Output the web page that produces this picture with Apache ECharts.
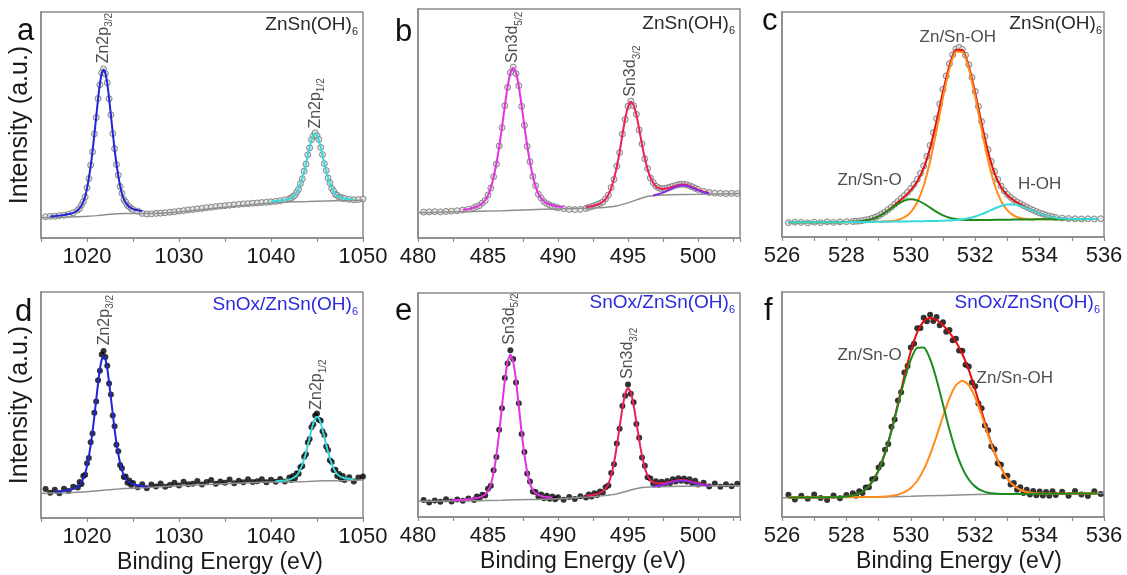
<!DOCTYPE html>
<html>
<head>
<meta charset="utf-8">
<title>XPS spectra</title>
<script src="https://cdn.jsdelivr.net/npm/echarts@6/dist/echarts.min.js"></script>
<style>
  html, body { margin: 0; padding: 0; background: #fff; }
  #chart { width: 1127px; height: 575px; }
</style>
</head>
<body>
<div id="chart"></div>
<script>
// ---- Zn 2p (panels a, d) ----
const zn2pEnergy = [
  1015.5, 1016, 1016.5, 1017, 1017.5, 1018, 1018.5,
  1019, 1019.2, 1019.4, 1019.6, 1019.8, 1020, 1020.2, 1020.4, 1020.6, 1020.8, 1021, 1021.2, 1021.4, 1021.6, 1021.8,
  1022, 1022.2, 1022.4, 1022.6, 1022.8, 1023, 1023.2, 1023.4, 1023.6, 1023.8, 1024, 1024.2, 1024.4, 1024.6, 1024.8, 1025,
  1025.5, 1026, 1026.5, 1027, 1027.5, 1028, 1028.5, 1029, 1029.5, 1030, 1030.5, 1031, 1031.5, 1032, 1032.5, 1033, 1033.5,
  1034, 1034.5, 1035, 1035.5, 1036, 1036.5, 1037, 1037.5, 1038, 1038.5, 1039, 1039.5, 1040, 1040.5, 1041, 1041.5,
  1042, 1042.2, 1042.4, 1042.6, 1042.8, 1043, 1043.2, 1043.4, 1043.6, 1043.8, 1044, 1044.2, 1044.4, 1044.6, 1044.8,
  1045, 1045.2, 1045.4, 1045.6, 1045.8, 1046, 1046.2, 1046.4, 1046.6, 1046.8, 1047, 1047.2, 1047.4, 1047.6, 1047.8, 1048,
  1048.5, 1049, 1049.5, 1050
];
const zn2pMeasA = [
  9.4, 9.6, 9.6, 9.9, 10.1, 10.5, 11.2,
  12.4, 13.1, 14.6, 16.1, 18.2, 22.2, 26.3, 32.2, 38.1, 46.1, 53.3, 61.7, 67.8, 73.1, 74.8,
  72.6, 68.7, 61.6, 54.5, 46.2, 39.5, 32.5, 27.8, 22.8, 19.8, 17.0, 15.9, 14.4, 13.9, 13.0, 12.6,
  11.9, 10.9, 10.6, 10.7, 10.9, 11.0, 11.2, 11.4, 11.6, 11.9, 12.1, 12.4, 12.6, 12.9, 13.1, 13.4, 13.6,
  13.9, 14.1, 14.3, 14.5, 14.7, 14.9, 15.1, 15.2, 15.4, 15.5, 15.7, 15.8, 16.0, 16.2, 16.5, 16.9,
  17.4, 17.7, 18.4, 18.9, 20.3, 21.6, 24.1, 26.2, 29.6, 32.7, 36.8, 39.9, 43.5, 45.2, 46.5,
  45.2, 43.6, 40.1, 36.9, 32.9, 29.9, 26.6, 24.4, 22.0, 20.8, 19.3, 18.9, 18.0, 17.9, 17.5, 17.5,
  17.1, 16.9, 17.0, 17.3
];
const zn2pMeasD = [
  12.8, 11.2, 12.5, 11.0, 12.9, 12.0, 13.8,
  13.5, 15.9, 15.0, 18.6, 19.1, 24.2, 26.5, 33.5, 37.4, 46.6, 51.5, 61.0, 65.2, 72.3, 73.9,
  71.2, 67.4, 59.5, 54.6, 45.3, 40.6, 32.4, 29.5, 23.5, 22.0, 18.1, 18.4, 15.6, 16.6, 14.6, 15.5,
  13.6, 14.9, 13.2, 14.8, 13.9, 15.3, 13.8, 14.6, 15.6, 14.4, 16.0, 14.9, 15.2, 16.4, 14.8, 15.9, 16.8,
  15.1, 16.2, 15.6, 17.0, 15.4, 16.5, 15.8, 17.1, 15.9, 16.3, 17.2, 15.8, 16.9, 16.0, 17.3, 16.2,
  17.9, 16.8, 18.6, 17.6, 19.8, 19.6, 22.5, 23.0, 27.1, 28.2, 33.4, 35.0, 40.2, 41.5, 45.3,
  46.2, 43.5, 43.0, 38.4, 36.7, 31.6, 30.1, 25.5, 24.8, 21.2, 21.3, 18.6, 19.5, 17.3, 18.6, 16.8,
  18.0, 16.2, 17.9, 18.4
];
// fitted components, starting at the energy noted
const zn2p32FitA = [ // from 1016
  9.55, 9.7, 9.9, 10.15, 10.6, 11.15,
  12.3, 13.2, 14.4, 15.95, 18.4, 21.95, 26.5, 31.9, 38.4, 45.8, 53.6, 61.4, 68.1, 72.8, 74.5,
  72.9, 68.4, 61.9, 54.2, 46.5, 39.2, 32.8, 27.5, 23.1, 19.6, 17.2, 15.7, 14.6, 13.8, 13.2, 12.8,
  12.25, 11.9
];
const zn2p12FitA = [ // from 1040
  16.2, 16.35, 16.55, 16.8,
  17.35, 17.75, 18.3, 19.0, 20.2, 21.8, 23.9, 26.4, 29.4, 32.9, 36.5, 40.1, 43.2, 45.4, 46.2,
  45.4, 43.3, 40.3, 36.7, 33.1, 29.7, 26.8, 24.25, 22.2, 20.6, 19.45, 18.75, 18.2, 17.85, 17.6, 17.45,
  17.2, 17.1
];
const zn2p32FitD = [ // from 1016.5
  11.6, 11.8, 12.0, 12.4, 12.9,
  14.0, 14.8, 15.9, 17.4, 19.7, 23.0, 27.2, 32.2, 38.2, 45.1, 52.3, 59.5, 65.75, 70.1, 71.7,
  70.3, 66.1, 60.1, 53.1, 46.1, 39.1, 33.2, 28.3, 24.3, 21.2, 18.95, 17.5, 16.5, 15.8, 15.3, 14.95,
  14.5, 14.2, 13.9
];
const zn2p12FitD = [ // from 1040.5
  16.3, 16.45, 16.65,
  17.0, 17.3, 17.7, 18.2, 18.9, 20.0, 21.6, 23.6, 26.0, 28.9, 32.2, 35.6, 39.0, 42.0, 44.0,
  44.8, 44.1, 42.1, 39.2, 35.8, 32.4, 29.15, 26.3, 24.0, 22.0, 20.5, 19.4, 18.7, 18.2, 17.9, 17.6,
  17.35, 17.2
];
const zn2pBgEnergy = [1015, 1018, 1020, 1021, 1022, 1023, 1024, 1026, 1030, 1035, 1040, 1042, 1044, 1046, 1048, 1050];
const zn2pBgA = [9.0, 9.3, 9.6, 9.9, 10.3, 10.6, 10.8, 10.8, 11.5, 13.6, 15.5, 15.9, 16.1, 16.35, 16.55, 16.7];
const zn2pBgD = [11.0, 11.2, 11.6, 12.0, 12.4, 12.7, 13.0, 13.4, 14.3, 15.2, 15.9, 16.0, 16.2, 16.45, 16.6, 16.8];
const zn2pTickLabels = [1020, 1030, 1040, 1050];

// ---- Sn 3d (panels b, e) ----
const sn3dEnergy = [
  480.4, 480.8, 481.2, 481.6, 482, 482.4, 482.8, 483.2, 483.6,
  484, 484.2, 484.4, 484.6, 484.8, 485, 485.2, 485.4, 485.6, 485.8, 486, 486.2, 486.4, 486.6, 486.8,
  487, 487.2, 487.4, 487.6, 487.8, 488, 488.2, 488.4, 488.6, 488.8, 489, 489.2, 489.4, 489.6, 489.8, 490,
  490.4, 490.8, 491.2, 491.6, 492,
  492.2, 492.4, 492.6, 492.8, 493, 493.2, 493.4, 493.6, 493.8, 494, 494.2, 494.4, 494.6, 494.8, 495, 495.2,
  495.4, 495.6, 495.8, 496, 496.2, 496.4, 496.6, 496.8, 497, 497.2, 497.4, 497.6, 497.8, 498, 498.2, 498.4,
  498.6, 498.8, 499, 499.2, 499.4, 499.6, 499.8, 500,
  500.4, 500.8, 501.2, 501.6, 502, 502.4, 502.8
];
const sn3dMeasB = [
  11.3, 11.4, 11.5, 11.4, 11.6, 11.7, 11.9, 12.2, 12.6,
  13.2, 13.8, 14.2, 15.3, 16.4, 18.8, 21.8, 26.8, 32.3, 40.2, 48.2, 57.8, 65.8, 72.3, 74.6,
  71.8, 66.5, 57.5, 49.2, 40.0, 33.3, 26.9, 22.8, 19.1, 17.4, 15.9, 15.0, 14.4, 13.9, 13.5, 13.2,
  12.8, 12.5, 12.4, 12.5, 12.9,
  13.4, 13.7, 14.1, 14.6, 15.1, 15.7, 17.1, 18.8, 22.0, 25.6, 31.4, 37.3, 45.4, 51.8, 57.5, 59.8,
  57.7, 54.0, 47.2, 41.1, 34.6, 30.3, 26.2, 24.2, 22.6, 21.9, 21.5, 21.6, 21.9, 22.2, 22.6, 23.0,
  23.3, 23.5, 23.5, 23.2, 22.8, 22.3, 21.7, 21.2,
  20.4, 19.9, 19.6, 19.5, 19.4, 19.5, 19.4
];
const sn3dMeasE = [
  7.6, 6.5, 7.4, 6.8, 7.9, 6.9, 7.8, 7.2, 8.3,
  7.6, 9.1, 8.4, 9.9, 9.6, 12.6, 14.0, 20.9, 26.8, 38.9, 48.6, 62.0, 68.5, 74.4, 70.5,
  60.1, 50.8, 37.0, 29.0, 19.4, 15.8, 11.4, 11.2, 9.2, 10.0, 8.4, 9.5, 8.1, 9.2, 7.9, 8.8,
  7.7, 8.9, 8.0, 9.3, 8.7,
  10.1, 9.2, 10.6, 9.8, 11.4, 10.9, 13.3, 14.1, 19.6, 23.5, 32.8, 39.4, 49.6, 54.1, 59.1, 55.0,
  51.2, 41.5, 35.4, 26.6, 22.9, 17.8, 17.2, 14.9, 16.0, 14.4, 15.7, 14.6, 16.1, 15.1, 16.8, 15.8,
  17.3, 16.2, 17.2, 15.9, 16.8, 15.1, 16.2, 14.5,
  15.3, 13.6, 14.9, 13.5, 14.6, 13.7, 14.8
];
const sn3d52FitB = [ // from 483.2
  12.3, 12.6,
  13.3, 13.7, 14.3, 15.2, 16.6, 18.65, 22.0, 26.6, 32.55, 39.9, 48.5, 57.5, 66.1, 72.0, 74.3,
  72.1, 66.25, 57.8, 48.9, 40.3, 33.0, 27.1, 22.6, 19.3, 17.3, 16.05, 15.15, 14.6, 14.3, 13.9, 13.76,
  13.6
];
const sn3d32FitB = [ // from 492 (envelope incl. satellite)
  13.6,
  13.75, 13.9, 14.2, 14.55, 15.0, 15.8, 16.95, 18.95, 21.8, 25.85, 31.1, 37.6, 45.1, 52.1, 57.2, 59.5,
  58.0, 53.7, 47.5, 40.8, 34.9, 30.05, 26.5, 24.1, 22.4, 21.75, 21.35, 21.45, 21.7, 22.0, 22.45, 22.85,
  23.2, 23.35, 23.35, 23.15, 22.75, 22.2, 21.65, 21.1,
  20.2, 19.75
];
const sn3dSatFitB = [ // from 496.8
  18.6, 18.9, 19.25, 19.6, 20.05, 20.6, 21.2, 21.8, 22.3, 22.7, 22.95, 22.97, 22.8, 22.4, 21.9, 21.4, 20.8,
  20.0, 19.5
];
const sn3d52FitE = [ // from 482.4
  7.5, 7.6, 7.7, 7.9,
  8.3, 8.5, 8.8, 9.3, 10.1, 11.6, 14.6, 19.8, 27.6, 37.7, 49.4, 60.75, 69.2, 72.5,
  69.3, 60.9, 49.5, 37.9, 27.9, 20.1, 14.9, 12.05, 10.6, 9.85, 9.4, 9.1, 8.95, 8.8, 8.7
];
const sn3d32FitE = [ // from 492 (envelope incl. satellite)
  9.35,
  9.55, 9.8, 10.0, 10.35, 10.8, 11.45, 12.6, 14.8, 18.6, 24.2, 31.6, 40.2, 48.5, 54.9, 57.6, 55.7,
  50.0, 42.3, 34.3, 27.4, 22.0, 18.45, 16.4, 15.55, 15.2, 15.05, 15.05, 15.2, 15.4, 15.7, 16.0, 16.35,
  16.55, 16.6, 16.55, 16.4, 16.1, 15.7, 15.4, 15.05,
  14.55, 14.25
];
const sn3dSatFitE = [ // from 496.8
  13.6, 13.8, 13.95, 14.2, 14.5, 14.9, 15.25, 15.65, 15.95, 16.2, 16.3, 16.2, 16.05, 15.8, 15.4, 15.1, 14.75,
  14.3, 14.0
];
const sn3dBgEnergy = [480, 482, 484, 486, 488, 490, 492, 493, 493.6, 494.2, 494.8, 495.4, 496, 496.6, 497.2, 498, 500, 503];
const sn3dBgB = [11.0, 11.3, 11.6, 11.9, 12.3, 12.7, 13.0, 13.2, 13.5, 14.0, 15.0, 16.2, 17.5, 18.3, 18.7, 18.9, 19.1, 19.4];
const sn3dBgE = [7.0, 7.15, 7.3, 7.5, 7.8, 8.1, 8.9, 9.4, 9.76, 10.3, 11.3, 12.4, 13.13, 13.43, 13.52, 13.6, 13.8, 14.0];
const sn3dTickLabels = [480, 485, 490, 495, 500];

// ---- O 1s (panels c, f) ----
const o1sEnergy = [
  526.2, 526.4, 526.6, 526.8, 527, 527.2, 527.4, 527.6, 527.8, 528, 528.2,
  528.3, 528.4, 528.5, 528.6, 528.7, 528.8, 528.9,
  529, 529.1, 529.2, 529.3, 529.4, 529.5, 529.6, 529.7, 529.8, 529.9,
  530, 530.1, 530.2, 530.3, 530.4, 530.5, 530.6, 530.7, 530.8, 530.9,
  531, 531.1, 531.2, 531.3, 531.4, 531.5, 531.6, 531.7, 531.8, 531.9,
  532, 532.1, 532.2, 532.3, 532.4, 532.5, 532.6, 532.7, 532.8, 532.9,
  533, 533.1, 533.2, 533.3, 533.4, 533.5, 533.6, 533.7, 533.8, 533.9,
  534, 534.1, 534.2, 534.3, 534.4, 534.5,
  534.7, 534.9, 535.1, 535.3, 535.5, 535.7, 535.9
];
const o1sMeasC = [
  6.4, 6.6, 6.5, 6.3, 6.6, 6.4, 6.7, 6.5, 6.7, 6.8, 6.9,
  7.0, 7.1, 7.3, 7.6, 7.9, 8.3, 8.8,
  9.4, 10.3, 11.1, 12.2, 13.3, 14.6, 15.8, 17.1, 18.4, 19.9,
  21.6, 23.4, 25.6, 28.3, 31.6, 35.8, 40.7, 46.4, 52.6, 59.1,
  65.6, 71.6, 77.0, 81.0, 83.6, 84.3, 83.4, 80.8, 76.6, 71.0,
  64.7, 58.0, 51.3, 44.8, 38.8, 33.6, 29.1, 25.6, 22.7, 20.6,
  18.9, 17.6, 16.5, 15.6, 14.8, 14.0, 13.3, 12.6, 11.9, 11.3,
  10.7, 10.2, 9.7, 9.3, 9.0, 8.7,
  8.4, 8.2, 8.1, 8.0, 8.1, 8.0, 8.1
];
const o1sMeasF = [
  9.9, 7.8, 9.5, 8.1, 10.0, 8.4, 7.6, 9.6, 8.3, 9.8, 10.6,
  9.4, 11.4, 10.7, 13.1, 13.2, 16.8, 17.1,
  22.0, 23.6, 29.9, 32.4, 40.1, 43.3, 51.8, 55.4, 64.2, 67.1,
  75.3, 77.0, 83.9, 84.0, 88.6, 87.0, 89.9, 87.1, 88.9, 85.2,
  86.6, 82.3, 83.1, 78.6, 79.2, 74.0, 73.9, 67.7, 66.9, 59.8,
  58.1, 50.4, 48.3, 40.7, 38.6, 31.5, 30.1, 23.9, 23.2, 18.1,
  18.3, 14.4, 15.1, 12.1, 13.2, 10.7, 12.1, 10.0, 11.6, 9.7,
  11.3, 9.6, 11.1, 9.5, 11.4, 9.8,
  11.2, 9.4, 11.6, 10.0, 9.3, 11.5, 10.2
];
const o1sFitEnergy = [
  526.2, 526.4, 526.6, 526.8, 527, 527.2, 527.4, 527.6, 527.8, 528,
  528.2, 528.4, 528.6, 528.8, 529, 529.2, 529.4, 529.6, 529.8, 530,
  530.2, 530.4, 530.6, 530.8, 531, 531.2, 531.4, 531.6, 531.8, 532,
  532.2, 532.4, 532.6, 532.8, 533, 533.2, 533.4, 533.6, 533.8, 534,
  534.2, 534.4, 534.6, 534.8, 535, 535.2, 535.4, 535.6, 535.8
];
const o1sEnvC = [
  6.51, 6.52, 6.53, 6.54, 6.55, 6.56, 6.57, 6.58, 6.59, 6.64,
  6.74, 6.94, 7.34, 8.06, 9.21, 10.89, 13.03, 15.4, 17.95, 20.86,
  24.71, 30.62, 39.6, 51.43, 64.53, 76.18, 83.19, 83.14, 75.97, 64.02,
  50.4, 37.94, 28.41, 22.21, 18.53, 16.22, 14.56, 13.1, 11.7, 10.47,
  9.5, 8.8, 8.37, 8.12, 8.01, 7.96, 7.94, 7.96, 7.98
];
const o1sOhC = [
  6.51, 6.52, 6.53, 6.54, 6.55, 6.56, 6.57, 6.58, 6.59, 6.6,
  6.63, 6.66, 6.69, 6.74, 6.77, 6.86, 7.08, 7.56, 8.68, 11.06,
  15.44, 22.78, 33.65, 47.4, 62.05, 74.76, 82.32, 82.38, 74.94, 62.35,
  47.79, 34.13, 23.35, 16.1, 11.81, 9.5, 8.45, 8.04, 7.89, 7.87,
  7.87, 7.88, 7.89, 7.9, 7.91, 7.92, 7.94, 7.96, 7.98
];
const o1sOC = [
  6.51, 6.52, 6.53, 6.54, 6.55, 6.56, 6.57, 6.58, 6.59, 6.64,
  6.74, 6.94, 7.34, 8.04, 9.19, 10.82, 12.78, 14.71, 16.18, 16.75,
  16.27, 14.89, 13.05, 11.18, 9.64, 8.58, 7.97, 7.66, 7.55, 7.54,
  7.55, 7.58, 7.62, 7.66, 7.7, 7.73, 7.76, 7.79, 7.82, 7.85,
  7.87, 7.88, 7.89, 7.9, 7.91, 7.92, 7.94, 7.96, 7.98
];
const o1sHohC = [
  6.51, 6.52, 6.53, 6.54, 6.55, 6.56, 6.57, 6.58, 6.59, 6.6,
  6.63, 6.66, 6.69, 6.72, 6.75, 6.79, 6.83, 6.87, 6.91, 6.95,
  7.0, 7.05, 7.1, 7.15, 7.24, 7.36, 7.54, 7.86, 8.36, 9.13,
  10.14, 11.39, 12.68, 13.77, 14.42, 14.45, 13.87, 12.85, 11.63, 10.45,
  9.5, 8.8, 8.37, 8.12, 8.01, 7.96, 7.94, 7.96, 7.98
];
const o1sEnvF = [
  8.62, 8.64, 8.66, 8.68, 8.7, 8.72, 8.74, 8.8, 8.89, 9.1,
  9.55, 10.51, 12.36, 15.61, 20.8, 28.48, 38.56, 50.37, 62.63, 73.67,
  82.06, 86.96, 88.5, 87.58, 85.2, 81.94, 77.86, 72.44, 65.37, 56.59,
  46.88, 37.25, 28.74, 21.94, 17.09, 13.95, 12.11, 11.12, 10.65, 10.44,
  10.37, 10.34, 10.36, 10.38, 10.4, 10.42, 10.44, 10.46, 10.48
];
const o1sOF = [
  8.62, 8.64, 8.66, 8.68, 8.7, 8.72, 8.74, 8.8, 8.89, 9.1,
  9.55, 10.51, 12.36, 15.61, 20.75, 28.34, 38.19, 49.51, 60.76, 69.94,
  75.21, 75.29, 70.18, 61.14, 50.03, 38.85, 29.14, 21.69, 16.65, 13.5,
  11.71, 10.81, 10.42, 10.27, 10.24, 10.22, 10.24, 10.26, 10.28, 10.3,
  10.32, 10.34, 10.36, 10.38, 10.4, 10.42, 10.44, 10.46, 10.48
];
const o1sOhF = [
  8.62, 8.64, 8.66, 8.68, 8.7, 8.72, 8.74, 8.76, 8.78, 8.8,
  8.82, 8.84, 8.86, 8.88, 8.95, 9.1, 9.39, 9.94, 11.01, 12.93,
  16.13, 21.03, 27.76, 35.96, 44.77, 52.77, 58.48, 60.59, 58.64, 53.09,
  45.21, 36.52, 28.44, 21.83, 17.05, 13.95, 12.11, 11.12, 10.65, 10.44,
  10.37, 10.34, 10.36, 10.38, 10.4, 10.42, 10.44, 10.46, 10.48
];
const o1sBgEnergy = [526, 528, 529, 530, 531, 532, 533, 534, 536];
const o1sBgF = [8.6, 8.8, 8.9, 9.2, 9.6, 10.0, 10.2, 10.3, 10.5];
const o1sTickLabels = [526, 528, 530, 532, 534, 536];

// ---- styling ----
const FONT = '"Liberation Sans", Arial, Helvetica, sans-serif';
const BOX = '#8a8a8a';
const INK = '#1a1a1a';
const BG_LINE = '#8f8f8f';
const C = {
  blue: '#2323d8', cyan: '#36dada', magenta: '#e233e2', pinkRed: '#ee1f55',
  purple: '#8a2be2', red: '#e01010', orange: '#ff8c1a', green: '#1d8a1d', title2: '#2b2bdc'
};
const openPoint = { color: '#dedede', borderColor: '#6b6b6b', borderWidth: 1 };
const solidPoint = { color: '#000' };

function zip(xs, ys) { return xs.map((x, i) => [x, ys[i]]); }
function from(grid, start, ys) {
  const i0 = grid.indexOf(start);
  return ys.map((y, k) => [grid[i0 + k], y]);
}

const grids = [
  { left: 41, top: 12, width: 322, height: 226 },
  { left: 418, top: 9, width: 322, height: 229 },
  { left: 782, top: 12, width: 322, height: 225 },
  { left: 41, top: 292, width: 322, height: 226 },
  { left: 418, top: 293, width: 322, height: 224 },
  { left: 782, top: 292, width: 322, height: 225 }
];
const axes = [
  { min: 1015, max: 1050, interval: 5, labels: zn2pTickLabels },
  { min: 480, max: 503, interval: 2.5, labels: sn3dTickLabels },
  { min: 526, max: 536, interval: 1, labels: o1sTickLabels },
  { min: 1015, max: 1050, interval: 5, labels: zn2pTickLabels, title: true, shift: 36 },
  { min: 480, max: 503, interval: 2.5, labels: sn3dTickLabels, title: true, shift: 8 },
  { min: 526, max: 536, interval: 1, labels: o1sTickLabels, title: true, shift: 32 }
];

const xAxis = axes.map((a, i) => ({
  gridIndex: i, type: 'value', min: a.min, max: a.max, interval: a.interval,
  axisLine: { show: true, onZero: false, lineStyle: { color: BOX, width: 1.5 } },
  axisTick: { show: true, inside: false, length: 4, lineStyle: { color: BOX, width: 1.2 } },
  axisLabel: {
    show: true, margin: 8, fontSize: 22, color: INK, fontFamily: FONT,
    formatter: v => (a.labels.indexOf(v) >= 0 ? String(v) : '')
  },
  splitLine: { show: false },
  name: a.title ? 'Binding Energy (eV)' : '',
  nameLocation: 'middle', nameGap: 33,
  nameTextStyle: { fontSize: 23, color: INK, fontFamily: FONT, padding: [0, 0, 0, a.shift || 0] }
}));
const yAxis = grids.map((g, i) => ({
  gridIndex: i, type: 'value', min: 0, max: 100,
  axisLine: { show: true, lineStyle: { color: BOX, width: 1.5 } },
  axisTick: { show: false }, axisLabel: { show: false }, splitLine: { show: false },
  name: (i === 0 || i === 3) ? 'Intensity (a.u.)' : '',
  nameLocation: 'middle', nameGap: 8,
  nameTextStyle: { fontSize: 25, color: INK, fontFamily: FONT }
}));

const series = [];
function addPoints(p, data, item, size) {
  series.push({ type: 'scatter', xAxisIndex: p, yAxisIndex: p, data, symbol: 'circle',
    symbolSize: size, itemStyle: item, silent: true, z: 2 });
}
function addLine(p, data, color, width) {
  series.push({ type: 'line', xAxisIndex: p, yAxisIndex: p, data, symbol: 'none', showSymbol: false,
    smooth: 0.2, lineStyle: { color, width }, silent: true, z: 3 });
}
const subRich = {
  m: { fontSize: 16, color: '#222', fontFamily: FONT, lineHeight: 22 },
  s: { fontSize: 10, color: '#222', fontFamily: FONT, lineHeight: 10, verticalAlign: 'bottom' }
};
function addPeakLabels(p, items) {
  series.push({ type: 'scatter', xAxisIndex: p, yAxisIndex: p, symbolSize: 1, silent: true, z: 6,
    itemStyle: { color: 'rgba(0,0,0,0)' },
    data: items.map(d => ({ value: [d[0], d[1]], main: d[2], sub: d[3] })),
    label: { show: true, position: 'inside', distance: 0, rotate: 90, align: 'left', verticalAlign: 'middle',
      formatter: q => '{m|' + q.data.main + '}{s|' + q.data.sub + '}', rich: subRich } });
}
function addTextLabels(p, items) {
  series.push({ type: 'scatter', xAxisIndex: p, yAxisIndex: p, symbolSize: 1, silent: true, z: 6,
    itemStyle: { color: 'rgba(0,0,0,0)' },
    data: items.map(d => ({ value: [d[0], d[1]], name: d[2] })),
    label: { show: true, position: 'inside', distance: 0, align: 'center', verticalAlign: 'middle',
      formatter: q => q.name, fontSize: 17, color: '#222', fontFamily: FONT } });
}

// a
addPoints(0, zip(zn2pEnergy, zn2pMeasA), openPoint, 6);
addLine(0, zip(zn2pBgEnergy, zn2pBgA), BG_LINE, 1.5);
addLine(0, from(zn2pEnergy, 1016, zn2p32FitA), C.blue, 2);
addLine(0, from(zn2pEnergy, 1040, zn2p12FitA), C.cyan, 2);
addPeakLabels(0, [[1021.8, 77.3, 'Zn2p', '3/2'], [1044.8, 48.4, 'Zn2p', '1/2']]);
// b
addPoints(1, zip(sn3dEnergy, sn3dMeasB), openPoint, 6);
addLine(1, zip(sn3dBgEnergy, sn3dBgB), BG_LINE, 1.5);
addLine(1, from(sn3dEnergy, 483.2, sn3d52FitB), C.magenta, 2);
addLine(1, from(sn3dEnergy, 492, sn3d32FitB), C.pinkRed, 2);
addLine(1, from(sn3dEnergy, 496.8, sn3dSatFitB), C.purple, 2);
addPeakLabels(1, [[486.77, 76.4, 'Sn3d', '5/2'], [495.2, 61.7, 'Sn3d', '3/2']]);
// c
addPoints(2, zip(o1sEnergy, o1sMeasC), openPoint, 6);
addLine(2, zip(o1sFitEnergy, o1sEnvC), C.red, 2);
addLine(2, zip(o1sFitEnergy, o1sOhC), C.orange, 2);
addLine(2, zip(o1sFitEnergy, o1sOC), C.green, 2);
addLine(2, zip(o1sFitEnergy, o1sHohC), C.cyan, 2);
addTextLabels(2, [[531.46, 88.9, 'Zn/Sn-OH'], [528.72, 25.4, 'Zn/Sn-O'], [534.0, 23.2, 'H-OH']]);
// d
addPoints(3, zip(zn2pEnergy, zn2pMeasD), solidPoint, 6);
addLine(3, zip(zn2pBgEnergy, zn2pBgD), BG_LINE, 1.5);
addLine(3, from(zn2pEnergy, 1016.5, zn2p32FitD), C.blue, 2);
addLine(3, from(zn2pEnergy, 1040.5, zn2p12FitD), C.cyan, 2);
addPeakLabels(3, [[1021.9, 76.4, 'Zn2p', '3/2'], [1045.0, 47.9, 'Zn2p', '1/2']]);
// e
addPoints(4, zip(sn3dEnergy, sn3dMeasE), solidPoint, 6);
addLine(4, zip(sn3dBgEnergy, sn3dBgE), BG_LINE, 1.5);
addLine(4, from(sn3dEnergy, 482.4, sn3d52FitE), C.magenta, 2);
addLine(4, from(sn3dEnergy, 492, sn3d32FitE), C.pinkRed, 2);
addLine(4, from(sn3dEnergy, 496.8, sn3dSatFitE), C.purple, 2);
addPeakLabels(4, [[486.55, 76.9, 'Sn3d', '5/2'], [495.0, 61.6, 'Sn3d', '3/2']]);
// f
addPoints(5, zip(o1sEnergy, o1sMeasF), solidPoint, 6);
addLine(5, zip(o1sBgEnergy, o1sBgF), BG_LINE, 1.5);
addLine(5, zip(o1sFitEnergy, o1sEnvF), C.red, 2);
addLine(5, zip(o1sFitEnergy, o1sOhF), C.orange, 2);
addLine(5, zip(o1sFitEnergy, o1sOF), C.green, 2);
addTextLabels(5, [[528.72, 71.9, 'Zn/Sn-O'], [533.23, 61.6, 'Zn/Sn-OH']]);

// panel letters and sample names
const letter = (text, left, top) => ({ text, left, top, padding: 0,
  textStyle: { fontSize: 31, fontWeight: 'normal', color: '#111', fontFamily: FONT } });
const sample = (text, right, top, color) => ({ text: '{m|' + text + '}{s|6}', right, top, padding: 0,
  textStyle: { fontWeight: 'normal', rich: {
    m: { fontSize: 19, fontWeight: 'normal', color, fontFamily: FONT, lineHeight: 24 },
    s: { fontSize: 11, fontWeight: 'normal', color, fontFamily: FONT, lineHeight: 12, verticalAlign: 'bottom' } } } });

const title = [
  letter('a', 17, 16), letter('b', 395, 17), letter('c', 762, 6),
  letter('d', 15, 297), letter('e', 395, 296), letter('f', 764, 296),
  sample('ZnSn(OH)', 769, 13, '#2a2a2a'), sample('ZnSn(OH)', 392, 12, '#2a2a2a'), sample('ZnSn(OH)', 25, 12, '#2a2a2a'),
  sample('SnOx/ZnSn(OH)', 769, 293, C.title2), sample('SnOx/ZnSn(OH)', 392, 291, C.title2),
  sample('SnOx/ZnSn(OH)', 27, 291, C.title2)
];

const chart = echarts.init(document.getElementById('chart'));
chart.setOption({
  animation: false,
  backgroundColor: '#fff',
  title,
  grid: grids.map(g => Object.assign({ show: true, borderColor: BOX, borderWidth: 1.5, containLabel: false }, g)),
  xAxis, yAxis, series
});
</script>
</body>
</html>
